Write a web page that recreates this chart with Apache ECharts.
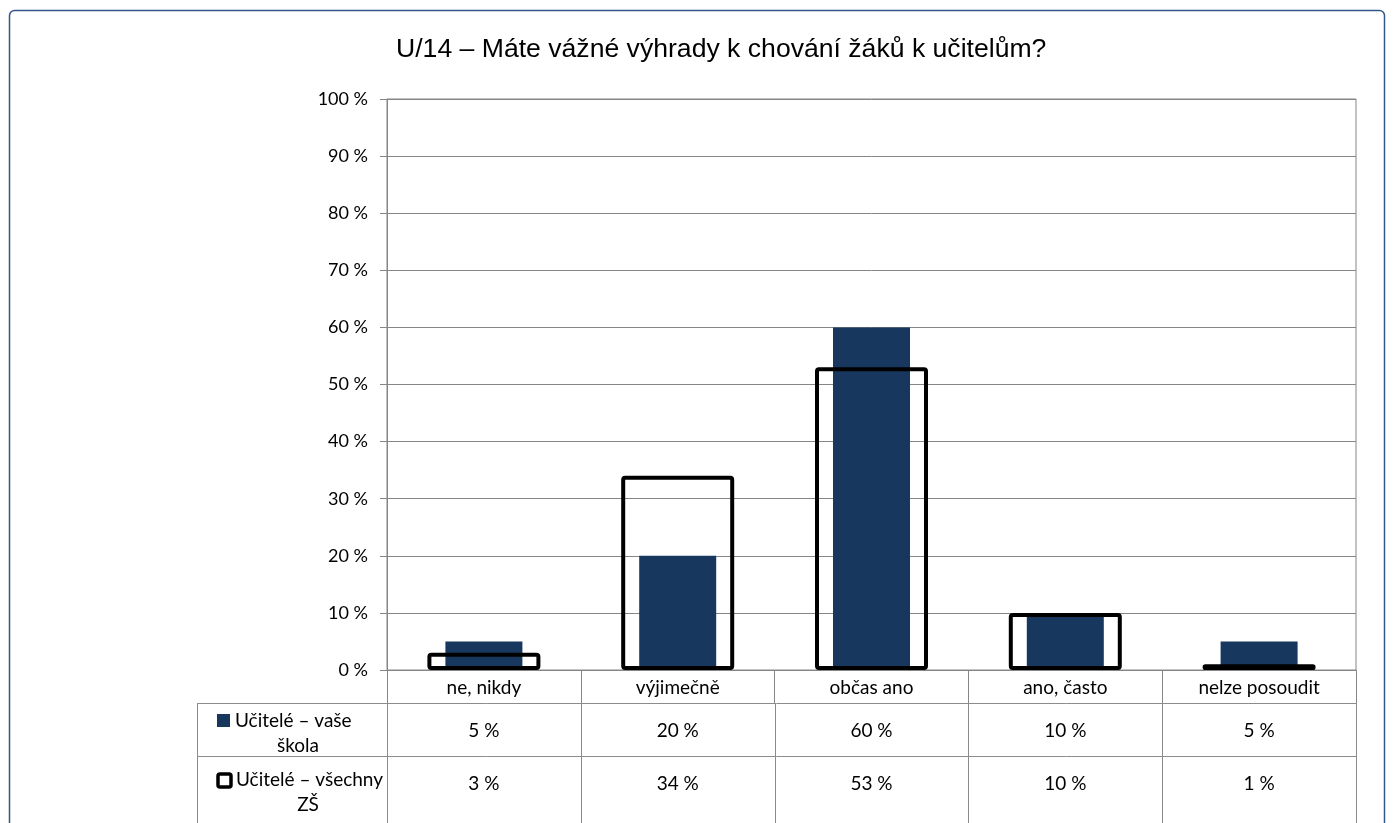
<!DOCTYPE html>
<html><head><meta charset="utf-8">
<script src="https://cdn.jsdelivr.net/npm/echarts@6/dist/echarts.min.js"></script>
<style>html,body{margin:0;padding:0;background:#fff}#c{width:1394px;height:823px}</style>
</head><body><div id="c"></div>
<script>
const title = 'U/14 – Máte vážné výhrady k chování žáků k učitelům?';
const categories = ['ne, nikdy', 'výjimečně', 'občas ano', 'ano, často', 'nelze posoudit'];
const seriesNames = ['Učitelé – vaše škola', 'Učitelé – všechny ZŠ'];
const rowHeaders = [['Učitelé – vaše', 'škola'], ['Učitelé – všechny', 'ZŠ']];
const schoolValues = [5, 20, 60, 10, 5];
const allValues = [3, 34, 53, 10, 1];
const yTicks = [0, 10, 20, 30, 40, 50, 60, 70, 80, 90, 100];

const FONT = 'Lato, "Open Sans", sans-serif';
const NAVY = '#17375E';
const GRID = '#868686';
const FS = 19;

const chart = echarts.init(document.getElementById('c'), null, {renderer: 'canvas'});
const gridL = 387, gridT = 99, gridR = 38, gridB = 153;

chart.setOption({
  animation: false,
  title: {
    text: title, left: 391, top: 31,
    textStyle: {fontFamily: '"Liberation Sans", Arial, sans-serif', fontSize: 26.6, fontWeight: 'normal', color: '#000'}
  },
  grid: {left: gridL, top: gridT, right: gridR, bottom: gridB, show: true, borderColor: GRID, borderWidth: 1},
  xAxis: [
    {type: 'category', data: categories, position: 'bottom',
     axisLine: {show: true, lineStyle: {color: GRID, width: 1}},
     axisTick: {show: true, length: 33, lineStyle: {color: GRID}},
     axisLabel: {fontFamily: FONT, fontSize: FS, color: '#000', margin: 8}},
    {type: 'category', data: categories, show: false}
  ],
  yAxis: {
    type: 'value', min: yTicks[0], max: yTicks[yTicks.length - 1], interval: 10,
    axisLine: {show: true, lineStyle: {color: GRID}},
    axisTick: {show: true, length: 7, lineStyle: {color: GRID}},
    axisLabel: {formatter: '{value} %', fontFamily: FONT, fontSize: 18, color: '#000', margin: 19},
    splitLine: {show: true, lineStyle: {color: GRID, width: 1}}
  },
  series: [
    {name: seriesNames[0], type: 'bar', xAxisIndex: 0, data: schoolValues, barWidth: 77,
     itemStyle: {color: NAVY}, z: 2},
    {name: seriesNames[1], type: 'bar', xAxisIndex: 1, data: allValues, barWidth: 113,
     itemStyle: {color: 'rgba(0,0,0,0)', borderColor: '#000', borderWidth: 4, borderRadius: 2}, z: 3}
  ]
});

// Data table built from the arrays, positioned via the category axis scale
const centers = categories.map((c, i) => chart.convertToPixel({xAxisIndex: 0}, i));
const band = centers.length > 1 ? centers[1] - centers[0] : 194;
const bounds = centers.map(c => c - band / 2).concat([centers[centers.length - 1] + band / 2]);
const tblLeft = 197, rowTop = 703, rowH = 53, tblBottom = 823;
const LINE = '#8C8C8C';
const els = [];
// frame
els.push({type: 'rect', shape: {x: 9.5, y: 10.5, width: 1375, height: 840, r: 5},
  style: {fill: 'none', stroke: '#34568A', lineWidth: 1.5}, silent: true, z: 0});
// horizontal lines
[rowTop, rowTop + rowH].forEach(y => {
  els.push({type: 'line', shape: {x1: tblLeft, y1: y + 0.5, x2: bounds[bounds.length - 1], y2: y + 0.5},
    style: {stroke: LINE, lineWidth: 1}});
});
// vertical lines
[tblLeft].concat(bounds).forEach(x => {
  els.push({type: 'line', shape: {x1: Math.round(x) + 0.5, y1: rowTop, x2: Math.round(x) + 0.5, y2: tblBottom},
    style: {stroke: LINE, lineWidth: 1}});
});
// values
const valueY = [731, 784];
[schoolValues, allValues].forEach((vals, r) => {
  vals.forEach((v, i) => {
    els.push({type: 'text', x: centers[i], y: valueY[r],
      style: {text: v + ' %', font: FS + 'px ' + FONT, fill: '#000', textAlign: 'center', textVerticalAlign: 'middle'}});
  });
});
// row headers with legend keys
const hdr = [
  {l1: 721, l2: 746, tx: 235, c2: 298},
  {l1: 780, l2: 805, tx: 236, c2: 308}
];
rowHeaders.forEach((h, r) => {
  const p = hdr[r];
  if (r === 0) {
    els.push({type: 'rect', shape: {x: 217, y: p.l1 - 7, width: 13, height: 13}, style: {fill: NAVY}});
  } else {
    els.push({type: 'rect', shape: {x: 218, y: p.l1 - 6, width: 13, height: 13, r: 2}, style: {fill: '#fff', stroke: '#000', lineWidth: 3.5}});
  }
  els.push({type: 'text', x: p.tx, y: p.l1, style: {text: h[0], font: FS + 'px ' + FONT, fill: '#000', textAlign: 'left', textVerticalAlign: 'middle'}});
  els.push({type: 'text', x: p.c2, y: p.l2, style: {text: h[1], font: FS + 'px ' + FONT, fill: '#000', textAlign: 'center', textVerticalAlign: 'middle'}});
});
chart.setOption({graphic: {elements: els}});
</script>
</body></html>
